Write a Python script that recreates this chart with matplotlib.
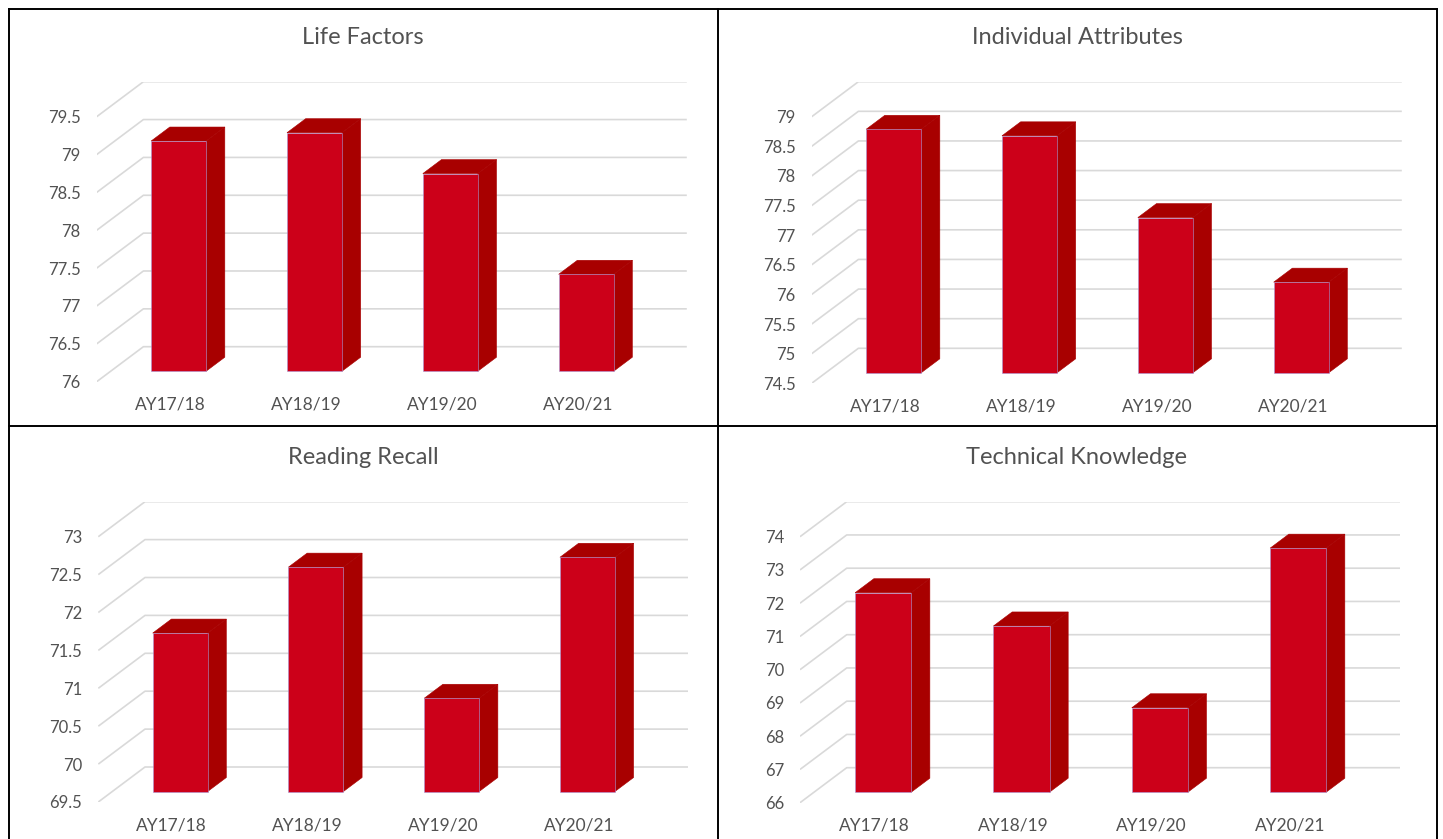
import matplotlib
matplotlib.use("Agg")
import matplotlib.pyplot as plt
from matplotlib.lines import Line2D
from matplotlib.patches import Polygon

plt.rcParams["font.family"] = ["Lato", "DejaVu Sans"]

years = ["AY17/18", "AY18/19", "AY19/20", "AY20/21"]

life_factors = [79.04, 79.15, 78.61, 77.28]
individual_attributes = [78.61, 78.50, 77.12, 76.03]
reading_recall = [71.59, 72.46, 70.73, 72.59]
technical_knowledge = [72.0, 71.0, 68.54, 73.34]

life_ticks = [76, 76.5, 77, 77.5, 78, 78.5, 79, 79.5]
individual_ticks = [74.5, 75, 75.5, 76, 76.5, 77, 77.5, 78, 78.5, 79]
reading_ticks = [69.5, 70, 70.5, 71, 71.5, 72, 72.5, 73]
technical_ticks = [66, 67, 68, 69, 70, 71, 72, 73, 74]

FIG_W, FIG_H = 1443, 839
DEPTH_X, DEPTH_Y = 46.7, 35.0      # pixel offset of the back wall
BAR_FRONT, BAR_BACK = 0.3, 0.7     # bar depth as fraction of the floor depth
BAR_WIDTH = 0.405                  # fraction of a category slot

FRONT = "#cc0019"
SHADE = "#a80000"
GRID = "#d9d9d9"
TEXT = "#525252"


def draw_panel(title, values, ticks, left, floor_y, floor_w, wall_h, title_xy):
    ymin, ymax = ticks[0], ticks[-1]
    n = len(values)
    dx = DEPTH_X / (floor_w / n)
    dy = DEPTH_Y / (wall_h / (ymax - ymin))

    ax = fig.add_axes([
        left / FIG_W,
        1 - floor_y / FIG_H,
        (floor_w + DEPTH_X) / FIG_W,
        (wall_h + DEPTH_Y) / FIG_H,
    ])
    ax.set_xlim(0, n + dx)
    ax.set_ylim(ymin, ymax + dy)
    for s in ax.spines.values():
        s.set_visible(False)

    # gridlines: diagonal on the side wall, horizontal on the back wall
    for t in ticks:
        ax.plot([0, dx, n + dx], [t, t + dy, t + dy], color=GRID, lw=1.2,
                solid_capstyle="butt", zorder=1)

    hw = BAR_WIDTH / 2
    fx, fy = BAR_FRONT * dx, BAR_FRONT * dy
    bx, by = BAR_BACK * dx, BAR_BACK * dy
    for i, v in enumerate(values):
        c = i + 0.5
        x0, x1 = c - hw, c + hw
        side = [(x1 + fx, ymin + fy), (x1 + bx, ymin + by),
                (x1 + bx, v + by), (x1 + fx, v + fy)]
        top = [(x0 + fx, v + fy), (x1 + fx, v + fy),
               (x1 + bx, v + by), (x0 + bx, v + by)]
        front = [(x0 + fx, ymin + fy), (x1 + fx, ymin + fy),
                 (x1 + fx, v + fy), (x0 + fx, v + fy)]
        ax.add_patch(Polygon(side, closed=True, facecolor=SHADE, edgecolor=SHADE,
                             lw=0.4, zorder=3))
        ax.add_patch(Polygon(top, closed=True, facecolor=SHADE, edgecolor=SHADE,
                             lw=0.4, zorder=3))
        ax.add_patch(Polygon(front, closed=True, facecolor=FRONT, edgecolor="#a898d8",
                             lw=0.4, zorder=4))

    ax.set_yticks(ticks)
    ax.set_yticklabels([f"{t:g}" for t in ticks])
    ax.set_xticks([i + 0.5 + 0.12 * dx for i in range(n)])
    ax.set_xticklabels(years)
    ax.tick_params(axis="y", length=0, pad=11.5, labelsize=12, labelcolor=TEXT)
    ax.tick_params(axis="x", length=0, pad=11.0, labelsize=12.5, labelcolor=TEXT)

    fig.text(title_xy[0] / FIG_W, 1 - title_xy[1] / FIG_H, title, ha="center",
             va="center", fontsize=17, color=TEXT)


fig = plt.figure(figsize=(FIG_W / 100, FIG_H / 100), dpi=100)
fig.patch.set_facecolor("white")

draw_panel("Life Factors", life_factors, life_ticks,
           96.7, 381.7, 543.4, 265.0, (363, 38))
draw_panel("Individual Attributes", individual_attributes, individual_ticks,
           811.7, 383.3, 543.4, 266.6, (1077, 38))
draw_panel("Reading Recall", reading_recall, reading_ticks,
           98.3, 802.0, 543.0, 265.3, (363, 458))
draw_panel("Technical Knowledge", technical_knowledge, technical_ticks,
           800.0, 802.7, 553.3, 266.0, (1077, 458))


# panel frame
def frame_line(x0, y0, x1, y1):
    fig.add_artist(Line2D([x0 / FIG_W, x1 / FIG_W], [1 - y0 / FIG_H, 1 - y1 / FIG_H],
                          transform=fig.transFigure, color="black", lw=1.4))


frame_line(9, 9, 1437, 9)
frame_line(9, 9, 9, 839)
frame_line(1437, 9, 1437, 839)
frame_line(718, 9, 718, 839)
frame_line(9, 426, 1437, 426)

fig.savefig("out.png", dpi=100, facecolor="white")
